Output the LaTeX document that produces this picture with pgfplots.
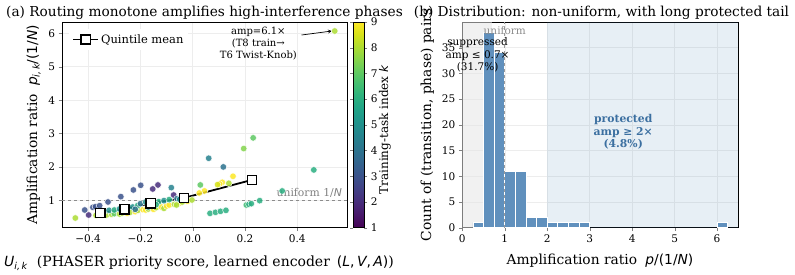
\documentclass[border=0pt]{standalone}
\usepackage{pgfplots}
\pgfplotsset{compat=1.18}
\usepackage{fontspec}
\setmainfont{DejaVu Serif}
\newfontfamily\msans{DejaVu Sans}[ItalicFont={DejaVu Sans Oblique}]
\newcommand\mi[1]{{\msans\itshape #1}}
\newcommand\sub[1]{\raisebox{-0.35ex}{\fontsize{9.5}{10}\selectfont\msans\itshape #1}}
\definecolor{barc}{RGB}{96,144,189}
\definecolor{protc}{RGB}{59,111,160}
\definecolor{shadeb}{RGB}{70,130,180}
\pgfplotsset{
  /pgf/number format/assume math mode=true,
  tick label style={font=\fontsize{10.5}{12}\selectfont},
}
\pgfplotstableread{
x y k
-0.449 0.47 8
-0.413 0.71 3
-0.398 0.56 2
-0.382 0.79 3
-0.372 0.81 3
-0.356 0.84 3
-0.324 0.95 3
-0.275 1.11 3
-0.227 1.31 3
-0.199 1.45 3
-0.153 1.34 2
-0.133 1.46 2
-0.082 1.38 4.5
-0.073 1.16 2
-0.37 0.55 8
-0.35 0.57 7
-0.33 0.56 8
-0.31 0.58 8
-0.30 0.60 7
-0.28 0.59 8
-0.27 0.62 8
-0.25 0.61 9
-0.24 0.64 8
-0.22 0.66 9
-0.21 0.70 8
-0.19 0.72 9
-0.18 0.71 9
-0.17 0.74 8
-0.15 0.73 9
-0.14 0.78 8
-0.12 0.80 9
-0.11 0.76 8
-0.10 0.83 9
-0.09 0.86 9
-0.07 0.88 8
-0.05 0.92 9
-0.04 0.95 8
-0.02 0.97 9
-0.36 0.62 5
-0.34 0.66 6
-0.32 0.70 5
-0.30 0.71 6
-0.28 0.74 5
-0.26 0.76 6
-0.23 0.80 5
-0.21 0.85 6
-0.20 0.90 4
-0.18 0.95 5
-0.16 0.93 5
-0.13 0.96 6
-0.11 0.99 5
-0.09 1.02 6
-0.06 1.05 4
-0.05 1.03 5
-0.03 1.08 5
-0.22 0.73 4
-0.17 0.80 5
-0.26 0.68 6
-0.14 0.87 6
0.029 1.46 7
0.061 2.26 4.5
0.117 2.00 4
0.154 1.72 9
0.113 1.54 9
0.103 1.49 9
0.095 1.47 8.5
0.138 1.51 8
0.195 2.55 7.5
0.231 2.87 7
0.066 0.61 6
0.087 0.64 6
0.106 0.67 6
0.127 0.70 6
0.205 0.86 6.5
0.215 0.88 6
0.224 0.90 6
0.256 0.99 6
0.045 1.28 9
0.025 1.22 9
0.342 1.28 6
0.463 1.91 6
0.543 6.07 8
-0.003 1.01 8
-0.062 0.86 8
}\scatterdata
\pgfplotstableread{
x y
-0.353 0.62
-0.261 0.73
-0.161 0.91
-0.034 1.07
0.226 1.61
}\quintdata
\begin{document}
\begin{tikzpicture}[x=1pt,y=1pt]
% ---------------- panel (a)
\begin{axis}[
  at={(62pt,47.3pt)}, anchor=south west,
  width=285pt, height=205.7pt, scale only axis,
  xmin=-0.5, xmax=0.59, ymin=0.18, ymax=6.34,
  xtick={-0.4,-0.2,0,0.2,0.4},
  xticklabels={−0.4,−0.2,0.0,0.2,0.4},
  ytick={1,2,3,4,5,6},
  grid=major, grid style={black!7, line width=0.5pt},
  tick align=outside, xtick pos=bottom, ytick pos=left,
  major tick length=3.5pt,
  axis line style={line width=0.8pt},
  colormap/viridis, point meta min=1, point meta max=9,
  colorbar,
  colorbar style={
    at={(parent axis.right of north east)}, anchor=north west, xshift=-2.5pt,
    width=11pt, ytick={1,2,3,4,5,6,7,8,9},
    tick align=outside, major tick length=3pt,
    axis line style={line width=0.8pt},
  },
  legend style={at={(0.025,0.965)}, anchor=north west, draw=none, fill=white,
    font=\fontsize{11.5}{13}\selectfont, inner sep=3pt},
  legend image code/.code={\draw[mark repeat=2,mark phase=2,#1] plot coordinates {(0pt,0pt) (12.5pt,0pt) (25pt,0pt)};},
]
\addplot[black!45, dashed, line width=0.8pt, forget plot] coordinates {(-0.5,1) (0.59,1)};
\addplot[scatter, only marks, mark=*, mark size=3.3pt, point meta=explicit,
  scatter/use mapped color={draw=white, fill=mapped color},
  line width=0.5pt, fill opacity=0.85, draw opacity=0.9, forget plot]
  table[x=x, y=y, meta=k] {\scatterdata};
\addplot[black, line width=1.8pt, mark=square*, mark size=4.6pt,
  mark options={fill=white, draw=black, line width=1.3pt}]
  table[x=x, y=y] {\quintdata};
\addlegendentry{Quintile mean}
\node[anchor=south east, text=black!50, font=\fontsize{10.8}{12}\selectfont, inner sep=1pt]
  at (axis cs:0.575,1.04) {uniform 1/\mi{N}};
\node[align=center, font=\fontsize{10}{12.3}\selectfont] at (axis cs:0.251,5.70)
  {amp=6.1×\\(T8 train→\\T6 Twist-Knob)};
\draw[->, >=stealth, line width=0.7pt] (axis cs:0.416,5.95) -- (axis cs:0.532,6.07);
\end{axis}
% ---------------- panel (b)
\begin{axis}[
  at={(462.3pt,47.3pt)}, anchor=south west,
  width=276pt, height=205.7pt, scale only axis,
  xmin=0, xmax=6.5, ymin=0, ymax=40, clip=false,
  xtick={0,1,2,3,4,5,6}, ytick={0,5,10,15,20,25,30,35},
  grid=major, grid style={black!7, line width=0.5pt},
  tick align=outside, xtick pos=bottom, ytick pos=left,
  major tick length=3.5pt,
  axis line style={line width=0.8pt},
]
\addplot[draw=none, fill=black!10, fill opacity=0.55] coordinates {(0,0) (0.7,0) (0.7,40) (0,40)} --cycle;
\addplot[draw=none, fill=shadeb, fill opacity=0.13] coordinates {(2,0) (6.5,0) (6.5,40) (2,40)} --cycle;
\addplot[ybar interval, fill=barc, draw=white, line width=0.8pt]
  coordinates {(0.25,1) (0.5,38) (0.75,34) (1.0,11) (1.25,11) (1.5,2) (1.75,2) (2.0,1) (2.25,1) (2.5,1) (2.75,1) (3.0,0)};
\addplot[ybar interval, fill=barc, draw=white, line width=0.8pt]
  coordinates {(6.0,1) (6.25,0)};
\addplot[black!40, dashed, line width=0.8pt] coordinates {(1,0) (1,40)};
\node[text=black!45, font=\fontsize{10.5}{12}\selectfont] at (axis cs:1.0,38.4) {uniform};
\node[align=center, font=\fontsize{10.5}{12.5}\selectfont] at (axis cs:0.36,33.6)
  {suppressed\\amp ≤ 0.7×\\(31.7\%)};
\node[align=center, text=protc, font=\bfseries\fontsize{10.8}{12.5}\selectfont] at (axis cs:3.79,18.6)
  {protected\\amp ≥ 2×\\(4.8\%)};
\end{axis}
% ---------------- titles and labels
\node[anchor=base, font=\fontsize{13.7}{15}\selectfont] at (204.5pt,258.5pt)
  {(a) Routing monotone amplifies high-interference phases};
\node[anchor=base, font=\fontsize{13.7}{15}\selectfont] at (601.5pt,258.5pt)
  {(b) Distribution: non-uniform, with long protected tail};
\node[anchor=base, font=\fontsize{14}{15}\selectfont] at (199pt,8.5pt)
  {\mi{U}\sub{i,\,k}\hspace{0.7em}(PHASER priority score, learned encoder\hspace{0.5em}{\msans(}\mi{L}{\msans,\,}\mi{V}{\msans,\,}\mi{A}{\msans)})};
\node[anchor=base, font=\fontsize{13.8}{15}\selectfont] at (600pt,10pt)
  {Amplification ratio\hspace{0.6em}\mi{p}{\msans/(1/}\mi{N}{\msans)}};
\node[anchor=base, rotate=90, font=\fontsize{13.8}{15}\selectfont] at (37pt,150pt)
  {Amplification ratio\hspace{0.6em}\mi{p}\sub{i,\,k}{\msans/(1/}\mi{N}{\msans)}};
\node[anchor=base, rotate=90, font=\fontsize{13.8}{15}\selectfont] at (431pt,150pt)
  {Count of (transition, phase) pairs};
\node[anchor=base, rotate=90, font=\fontsize{12}{13}\selectfont] at (388pt,145pt)
  {Training-task index \mi{k}};
\pgfresetboundingbox
\useasboundingbox (0,0) rectangle (795pt,275pt);
\end{tikzpicture}
\end{document}
